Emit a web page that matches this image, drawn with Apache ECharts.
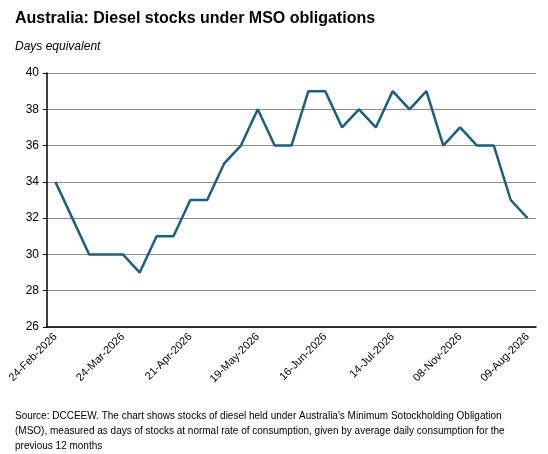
<!DOCTYPE html>
<html><head><meta charset="utf-8">
<script src="https://cdn.jsdelivr.net/npm/echarts@6/dist/echarts.min.js"></script>
<style>body{margin:0;background:#fff}#c{width:548px;height:454px}</style>
</head><body><div id="c"></div>
<script>
// weekly categories, labels shown every 4th point
const categories = ['24-Feb-2026','','','','24-Mar-2026','','','','21-Apr-2026','','','','19-May-2026','','','',
  '16-Jun-2026','','','','14-Jul-2026','','','','08-Nov-2026','','','','09-Aug-2026'];
const days = [34,32,30,30,30,29,31,31,33,33,35,36,38,36,36,39,39,37,38,37,39,38,39,36,37,36,36,33,32];
const yTicks = { min: 26, max: 40, interval: 2 };

const chart = echarts.init(document.getElementById('c'));
chart.setOption({
  animation: false,
  title: [
    { text: 'Australia: Diesel stocks under MSO obligations', left: 10, top: 6,
      textStyle: { fontFamily: 'Liberation Sans', fontSize: 16, fontWeight: 'bold', color: '#000' } },
    { text: 'Days equivalent', left: 10, top: 36,
      textStyle: { fontFamily: 'Liberation Sans', fontSize: 12, fontStyle: 'italic', fontWeight: 'normal', color: '#000' } },
    { text: "Source: DCCEEW. The chart shows stocks of diesel held under Australia's Minimum Sotockholding Obligation\n(MSO), measured as days of stocks at normal rate of consumption, given by average daily consumption for the\nprevious 12 months",
      left: 10, top: 404,
      textStyle: { fontFamily: 'Liberation Sans', fontSize: 10, fontWeight: 'normal', color: '#000', lineHeight: 15 } }
  ],
  grid: { left: 47, right: 12, top: 73, bottom: 127 },
  xAxis: {
    type: 'category', data: categories, boundaryGap: true,
    axisLine: { lineStyle: { color: '#000', width: 1.5 } },
    axisTick: { interval: 0, length: 5, lineStyle: { color: '#000' } },
    axisLabel: { interval: 0, rotate: 45, color: '#000', fontFamily: 'Liberation Sans', fontSize: 11, margin: 8 }
  },
  yAxis: {
    type: 'value', min: yTicks.min, max: yTicks.max, interval: yTicks.interval,
    axisLine: { show: true, lineStyle: { color: '#000', width: 1.5 } },
    axisTick: { show: true, length: 4, lineStyle: { color: '#000' } },
    axisLabel: { color: '#000', fontFamily: 'Liberation Sans', fontSize: 12 },
    splitLine: { lineStyle: { color: '#8c8c8c' } }
  },
  series: [{
    type: 'line', data: days, symbol: 'none',
    lineStyle: { color: '#1c5f80', width: 2.5 }
  }]
});
</script></body></html>
